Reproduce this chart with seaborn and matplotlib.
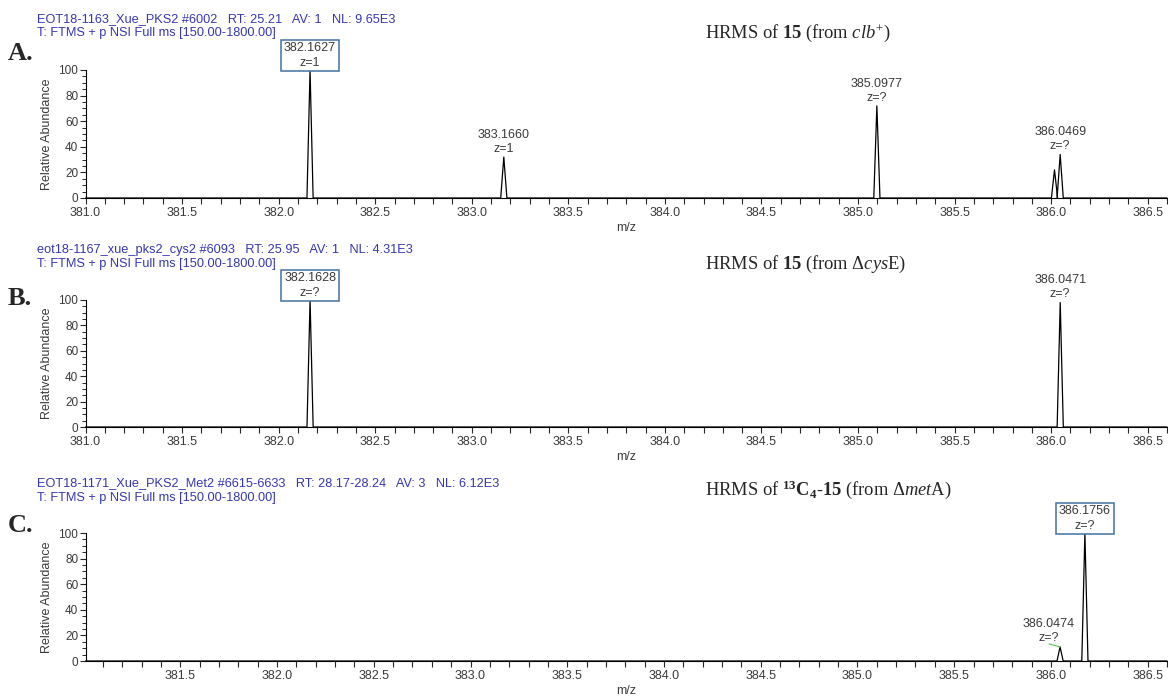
import matplotlib
matplotlib.use("Agg")
import matplotlib.pyplot as plt
import numpy as np
import pandas as pd
import seaborn as sns
from matplotlib.ticker import MultipleLocator

# ---------------------------------------------------------------- data
# Panel A: compound 15 from clb+
a_mz = [382.1627, 383.1660, 385.0977, 386.0175, 386.0469]
a_rel = [100, 32, 72, 22, 34]
a_charge = ["1", "1", "?", None, "?"]
a_header = ["EOT18-1163_Xue_PKS2 #6002   RT: 25.21   AV: 1   NL: 9.65E3",
            "T: FTMS + p NSI Full ms [150.00-1800.00]"]
a_title = r"HRMS of $\mathbf{15}$ (from $\mathit{clb}^{+}$)"

# Panel B: compound 15 from the cysE deletion strain
b_mz = [382.1628, 386.0471]
b_rel = [100, 98]
b_charge = ["?", "?"]
b_header = ["eot18-1167_xue_pks2_cys2 #6093   RT: 25.95   AV: 1   NL: 4.31E3",
            "T: FTMS + p NSI Full ms [150.00-1800.00]"]
b_title = r"HRMS of $\mathbf{15}$ (from Δ$\mathit{cys}$E)"

# Panel C: 13C4-labelled 15 from the metA deletion strain
c_mz = [386.0474, 386.1756]
c_rel = [11, 100]
c_charge = ["?", "?"]
c_header = ["EOT18-1171_Xue_PKS2_Met2 #6615-6633   RT: 28.17-28.24   AV: 3   NL: 6.12E3",
            "T: FTMS + p NSI Full ms [150.00-1800.00]"]
c_title = (r"HRMS of $^{\mathbf{13}}\mathbf{C}_{\mathbf{4}}$-$\mathbf{15}$"
           r" (from Δ$\mathit{met}$A)")

panel_letters = ["A.", "B.", "C."]
x_ranges = [(381.0, 386.6), (381.0, 386.6), (381.01, 386.6)]

# ---------------------------------------------------------------- style
sns.set_style("ticks")
plt.rcParams.update({
    "font.family": ["Liberation Sans", "DejaVu Sans"],
    "mathtext.fontset": "custom",
    "mathtext.rm": "Liberation Serif",
    "mathtext.it": "Liberation Serif:italic",
    "mathtext.bf": "Liberation Serif:bold",
    "axes.linewidth": 0.8,
    "axes.edgecolor": "black",
})

HEADER_BLUE = "#3636B4"
LABEL_GREY = "#3a3a3a"
BOX_BLUE = "#41729F"
PEAK_HALF_WIDTH = 0.016

W, H = 1168, 697
fig = plt.figure(figsize=(W / 100, H / 100), dpi=100)


def fx(px):
    return px / W


def fy(py):
    return 1 - py / H


# pixel layout of each panel: axes top/bottom, header/title/letter baselines
layout = [
    dict(top=70, bottom=198, head=(22, 36), title=38, letter=60),
    dict(top=300, bottom=427, head=(253, 267.5), title=269, letter=305),
    dict(top=533, bottom=661, head=(486.5, 500.5), title=495, letter=531.5),
]
AX_LEFT, AX_RIGHT = 85.5, 1167

# label placement tweaks: (panel, peak index) -> offset in points, leader line
label_offsets = {(2, 0): ((-8, 2.2), True)}

panels = [
    (a_mz, a_rel, a_charge, a_header, a_title),
    (b_mz, b_rel, b_charge, b_header, b_title),
    (c_mz, c_rel, c_charge, c_header, c_title),
]


def profile(mz, rel, lo, hi):
    """Baseline plus a narrow profile peak at each centroid."""
    xs, ys = [lo], [0.0]
    for c, h in sorted(zip(mz, rel)):
        xs += [c - PEAK_HALF_WIDTH, c, c + PEAK_HALF_WIDTH]
        ys += [0.0, h, 0.0]
    xs.append(hi)
    ys.append(0.0)
    return pd.DataFrame({"m/z": xs, "Relative Abundance": ys})


for i, (mz, rel, charge, header, title) in enumerate(panels):
    lay = layout[i]
    lo, hi = x_ranges[i]
    ax = fig.add_axes([fx(AX_LEFT), fy(lay["bottom"]),
                       (AX_RIGHT - AX_LEFT) / W,
                       (lay["bottom"] - lay["top"]) / H])

    df = profile(mz, rel, lo, hi)
    sns.lineplot(data=df, x="m/z", y="Relative Abundance", sort=False,
                 estimator=None, color="black", lw=0.9, ax=ax)
    for ln in ax.lines:
        ln.set_clip_on(False)

    ax.set_xlim(lo, hi)
    ax.set_ylim(0, 100)
    sns.despine(ax=ax)

    ax.xaxis.set_major_locator(MultipleLocator(0.5))
    ax.xaxis.set_minor_locator(MultipleLocator(0.1))
    ax.xaxis.set_major_formatter(plt.FuncFormatter(lambda v, p: f"{v:.1f}"))
    ax.yaxis.set_major_locator(MultipleLocator(20))
    ax.yaxis.set_minor_locator(MultipleLocator(5))

    ax.tick_params(axis="x", which="both", direction="out", length=4.3,
                   width=0.8, pad=2, labelsize=9, labelcolor=LABEL_GREY)
    ax.tick_params(axis="y", which="major", direction="out", length=4.3,
                   width=0.8, pad=1, labelsize=8.5, labelcolor=LABEL_GREY)
    ax.tick_params(axis="y", which="minor", direction="out", length=2.8,
                   width=0.7)

    ax.set_xlabel("m/z", fontsize=9, color=LABEL_GREY)
    ax.set_ylabel("Relative Abundance", fontsize=9, color=LABEL_GREY)
    hpx = lay["bottom"] - lay["top"]
    ax.xaxis.set_label_coords(0.5, -(222 - 198) / hpx)
    ax.yaxis.set_label_coords(-(AX_LEFT - 53) / (AX_RIGHT - AX_LEFT), 0.5)

    # peak annotations
    for j, (c, h, z) in enumerate(zip(mz, rel, charge)):
        if z is None:
            continue
        txt = f"{c:.4f}\nz={z}"
        kw = dict(xy=(c, h), textcoords="offset points", ha="center",
                  va="bottom", fontsize=9, color=LABEL_GREY, linespacing=1.25,
                  annotation_clip=False)
        if h >= 100:
            ax.annotate(txt, xytext=(0, 1.0),
                        bbox=dict(boxstyle="square,pad=0.22", fc="white",
                                  ec=BOX_BLUE, lw=1.1), zorder=5, **kw)
        elif (i, j) in label_offsets:
            off, leader = label_offsets[(i, j)]
            arrow = dict(arrowstyle="-", color="#5cbf5c", lw=0.8,
                         shrinkA=0, shrinkB=0, relpos=(0.5, 0.0)) if leader else None
            ax.annotate(txt, xytext=off, arrowprops=arrow, **kw)
        else:
            ax.annotate(txt, xytext=(0, 1.5), **kw)

    # scan header, panel letter and title
    fig.text(fx(37), fy(lay["head"][0]), header[0], color=HEADER_BLUE,
             fontsize=9.2, va="baseline", ha="left")
    fig.text(fx(37), fy(lay["head"][1]), header[1], color=HEADER_BLUE,
             fontsize=9.2, va="baseline", ha="left")
    fig.text(fx(8), fy(lay["letter"]), panel_letters[i],
             family="Liberation Serif", fontweight="bold", fontsize=19,
             va="baseline", ha="left")
    fig.text(fx(705), fy(lay["title"]), title, family="Liberation Serif",
             fontsize=13.3, va="baseline", ha="left")

fig.savefig("out.png", dpi=100)
